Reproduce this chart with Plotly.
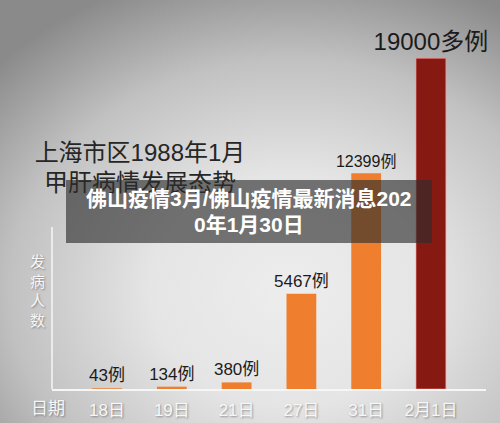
import plotly.graph_objects as go

# 上海市区1988年1月 甲肝发病人数
dates = ["18日", "19日", "21日", "27日", "31日", "2月1日"]
cases = [43, 134, 380, 5467, 12399, 19000]
suffixes = ["", "", "", "", "", "多"]
bar_colors = ["#ef7f2e", "#ef7f2e", "#ef7f2e", "#ef7f2e", "#ef7f2e", "#861a12"]
title_lines = ["上海市区1988年1月", "甲肝病情发展态势"]
banner_lines = ["佛山疫情3月/佛山疫情最新消息202", "0年1月30日"]

W, H = 500, 423
CJK = "Liberation Sans, Noto Sans CJK SC, sans-serif"


def px(x):
    return x / W


def py(y):
    return 1 - y / H


labels = [f"{v}{s}例" for v, s in zip(cases, suffixes)]
label_sizes = [17, 17, 17, 17, 16, 24]
soft_shadow = "1px 1px 2px rgba(0,0,0,0.35)"

fig = go.Figure()

# vignetted grey backdrop (full-page subplot drawn first)
cx, cy, rx, ry = 290, 290, 400, 330
fig.add_trace(go.Scatter(
    x=[cx - rx, cx + rx, cx + rx, cx - rx, cx - rx],
    y=[cy - ry, cy - ry, cy + ry, cy + ry, cy - ry],
    mode="lines", fill="toself", line=dict(width=0),
    fillgradient=dict(type="radial",
                      colorscale=[[0, "#ededed"], [0.35, "#e5e5e5"],
                                  [0.7, "#c1c1c1"], [1, "#8a8a8a"]]),
    hoverinfo="skip", showlegend=False, xaxis="x", yaxis="y",
))

# chart heading, kept under the caption banner
fig.add_trace(go.Scatter(
    x=[140, 140], y=[155, 185], mode="text", text=title_lines,
    textfont=dict(size=24, color="#262626", family=CJK),
    hoverinfo="skip", showlegend=False, xaxis="x", yaxis="y",
))

# case bars
fig.add_trace(go.Bar(
    x=dates, y=cases, text=labels, textposition="outside",
    textfont=dict(size=label_sizes, color="#1b1b1b", family=CJK),
    constraintext="none", cliponaxis=False,
    marker=dict(color=bar_colors,
                line=dict(color=["rgba(0,0,0,0)"] * 5 + ["rgba(255,140,140,0.6)"], width=1)),
    width=0.46, hoverinfo="skip", showlegend=False, xaxis="x2", yaxis="y2",
))

fig.update_layout(
    width=W, height=H, margin=dict(l=0, r=0, t=0, b=0),
    paper_bgcolor="#c8c8c8", plot_bgcolor="rgba(0,0,0,0)",
    xaxis=dict(domain=[0, 1], range=[0, W], visible=False, fixedrange=True),
    yaxis=dict(domain=[0, 1], range=[H, 0], visible=False, fixedrange=True),
    xaxis2=dict(domain=[px(52), px(486)], anchor="y2", type="category",
                range=[-0.85, 5.85], showgrid=False, zeroline=False,
                showline=True, linecolor="#f6f6f6", linewidth=2, ticks="",
                ticklabelstandoff=5,
                tickfont=dict(size=17, color="#f7f7f7", family=CJK,
                              shadow=soft_shadow)),
    yaxis2=dict(domain=[py(389), py(20)], anchor="x2", range=[0, 21200],
                visible=False, showgrid=False, zeroline=False),
    shapes=[
        # vertical axis stub
        dict(type="line", xref="paper", yref="paper",
             x0=px(52), x1=px(52), y0=py(227), y1=py(389),
             line=dict(color="#f6f6f6", width=1.5)),
        # caption banner
        dict(type="rect", xref="paper", yref="paper",
             x0=px(66), x1=px(432), y0=py(243), y1=py(180),
             fillcolor="rgba(45,45,45,0.64)", line=dict(width=0), layer="above"),
    ],
    annotations=[
        dict(text="发<br>病<br>人<br>数", xref="paper", yref="paper",
             x=px(37), y=py(291), xanchor="center", yanchor="middle",
             showarrow=False, align="center",
             font=dict(size=15, color="#f7f7f7", family=CJK, shadow=soft_shadow)),
        dict(text="日期", xref="paper", yref="paper",
             x=px(48), y=py(408), xanchor="center", yanchor="middle",
             showarrow=False,
             font=dict(size=17, color="#f7f7f7", family=CJK, shadow=soft_shadow)),
        dict(text=banner_lines[0], xref="paper", yref="paper",
             x=px(249), y=py(198), xanchor="center", yanchor="middle",
             showarrow=False,
             font=dict(size=21, color="#ffffff", family=CJK, weight="bold")),
        dict(text=banner_lines[1], xref="paper", yref="paper",
             x=px(249), y=py(224), xanchor="center", yanchor="middle",
             showarrow=False,
             font=dict(size=21, color="#ffffff", family=CJK, weight="bold")),
    ],
)

fig.write_html("out.html")
